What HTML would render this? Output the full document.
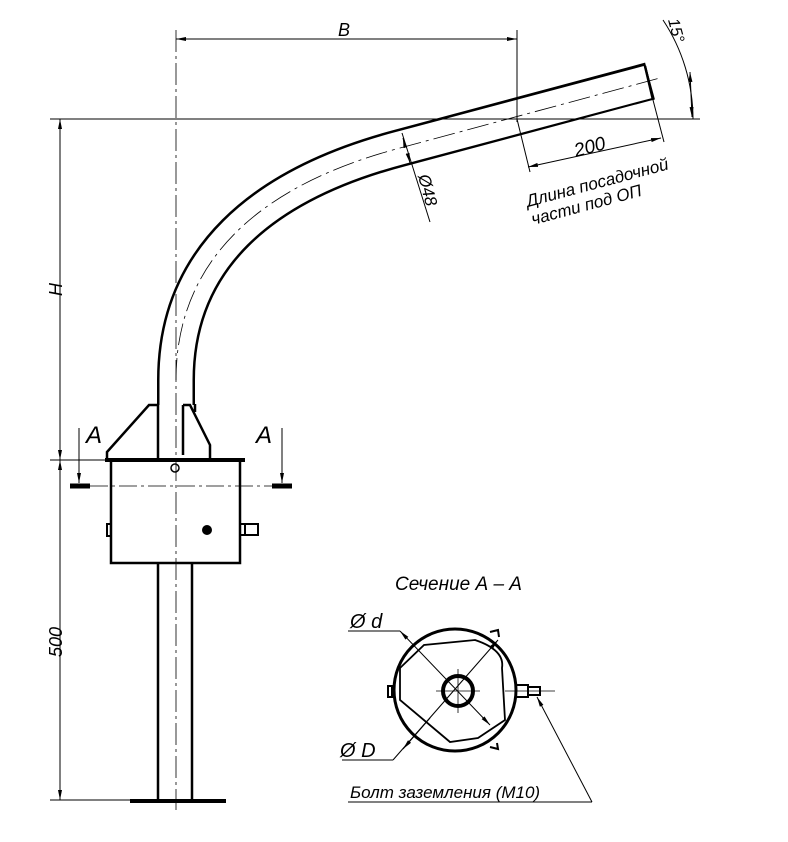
<!DOCTYPE html>
<html><head><meta charset="utf-8"><style>body{margin:0;background:#fff}svg{display:block}text{font-family:"Liberation Sans","DejaVu Sans",sans-serif;font-style:italic;fill:#000}</style></head><body>
<svg width="788" height="842" viewBox="0 0 788 842" xmlns="http://www.w3.org/2000/svg">
<defs><marker id="a" viewBox="0 0 10 4" refX="10" refY="2" markerWidth="10" markerHeight="4" orient="auto-start-reverse" markerUnits="userSpaceOnUse"><path d="M0,0L10,2L0,4z"/></marker></defs>
<g fill="none" stroke="#000">
<path d="M176,405 L176,380 C176,260 260,185 400,148 L650,81" stroke-width="38"/>
<path d="M176,407 L176,380 C176,260 260,185 400,148 L648,82" stroke="#fff" stroke-width="33"/>
<line x1="645" y1="66" x2="653" y2="100" stroke-width="2.5"/>
<path d="M176,380 C176,260 260,185 400,148 L660,78" stroke-width="0.8" stroke-dasharray="22,5,3,5"/>
<path d="M158,405 L149,405 L107,452 L107,459 M158,405 L158,459" stroke-width="2.5"/>
<path d="M183,405 L190,405 L210,445 L210,459 M183,405 L183,455 M195,404 L195,412" stroke-width="2.5"/>
<line x1="105" y1="460" x2="245" y2="460" stroke-width="4"/>
<path d="M111,460 L111,563 L240,563 L240,460" stroke-width="2.5"/>
<circle cx="175" cy="468" r="4" stroke-width="1.5"/>
<circle cx="207" cy="530" r="4" fill="#000" stroke-width="2"/>
<path d="M240,524 L258,524 L258,535 L240,535 M245,524 L245,535" stroke-width="2"/>
<path d="M111,524 L107,524 L107,536 L111,536" stroke-width="2"/>
<line x1="90" y1="486" x2="272" y2="486" stroke-width="0.8" stroke-dasharray="18,4,3,4"/>
<line x1="70" y1="486" x2="90" y2="486" stroke-width="5"/>
<line x1="272" y1="486" x2="292" y2="486" stroke-width="5"/>
<line x1="79" y1="428" x2="79" y2="483" stroke-width="1" marker-end="url(#a)"/>
<line x1="282" y1="428" x2="282" y2="483" stroke-width="1" marker-end="url(#a)"/>
<path d="M158,563 L158,800 M192,563 L192,800" stroke-width="2.5"/>
<line x1="130" y1="801" x2="226" y2="801" stroke-width="4"/>
<line x1="176" y1="30" x2="176" y2="810" stroke-width="0.8" stroke-dasharray="22,4,3,4"/>
<line x1="50" y1="119" x2="700" y2="119" stroke-width="1"/>
<line x1="50" y1="460" x2="105" y2="460" stroke-width="1"/>
<line x1="50" y1="800" x2="130" y2="800" stroke-width="1"/>
<line x1="60" y1="119" x2="60" y2="460" stroke-width="1" marker-start="url(#a)" marker-end="url(#a)"/>
<line x1="60" y1="460" x2="60" y2="800" stroke-width="1" marker-start="url(#a)" marker-end="url(#a)"/>
<line x1="517" y1="30" x2="517" y2="122" stroke-width="1"/>
<line x1="176" y1="39" x2="517" y2="39" stroke-width="1" marker-start="url(#a)" marker-end="url(#a)"/>
<path d="M663,20 A180,180 0 0 1 693,119" stroke-width="1"/>
<line x1="690" y1="72" x2="692" y2="117" stroke-width="1" marker-start="url(#a)" marker-end="url(#a)"/>
<line x1="517" y1="119" x2="530" y2="172" stroke-width="1"/>
<line x1="653" y1="100" x2="664" y2="142" stroke-width="1"/>
<line x1="528" y1="167" x2="661" y2="138" stroke-width="1" marker-start="url(#a)" marker-end="url(#a)"/>
<line x1="402" y1="133" x2="430" y2="222" stroke-width="1"/>
<line x1="403" y1="138" x2="405" y2="146" stroke-width="1" marker-start="url(#a)"/>
<line x1="408" y1="155" x2="410" y2="163" stroke-width="1" marker-end="url(#a)"/>
<circle cx="455" cy="690" r="61" stroke-width="3"/>
<path d="M400,668 L424,645 L475,640 Q505,650 502,668 L505,720 L478,738 L450,742 L400,700 Z" stroke-width="1.8"/>
<circle cx="458" cy="691" r="15" stroke-width="4"/>
<line x1="436" y1="691" x2="480" y2="691" stroke-width="0.8"/>
<line x1="458" y1="669" x2="458" y2="713" stroke-width="0.8"/>
<line x1="505" y1="691" x2="555" y2="691" stroke-width="0.8"/>
<path d="M388,686 L392,686 L392,697 L388,697Z M490,632 L498,630 L499,637 M490,747 L498,749 L497,743" stroke-width="2"/>
<path d="M516,685 L528,685 L528,697 L516,697 Z M528,687 L540,687 L540,695 L528,695" stroke-width="2"/>
<line x1="348" y1="631" x2="400" y2="631" stroke-width="1"/>
<line x1="400" y1="631" x2="490" y2="725" stroke-width="1" marker-start="url(#a)" marker-end="url(#a)"/>
<line x1="342" y1="760" x2="393" y2="760" stroke-width="1"/>
<line x1="393" y1="760" x2="498" y2="640" stroke-width="1" marker-end="url(#a)"/>
<line x1="430" y1="718" x2="403" y2="749" stroke-width="1" marker-end="url(#a)"/>
<line x1="348" y1="802" x2="592" y2="802" stroke-width="1"/>
<line x1="592" y1="802" x2="537" y2="697" stroke-width="1" marker-end="url(#a)"/>
</g>
<text x="86" y="443" font-size="24">A</text>
<text x="256" y="443" font-size="24">A</text>
<text x="338" y="36" font-size="18">B</text>
<text transform="translate(62,296) rotate(-90)" font-size="18">H</text>
<text transform="translate(62,657) rotate(-90)" font-size="18">500</text>
<text transform="translate(668,20) rotate(75)" font-size="16">15°</text>
<text transform="translate(576,157) rotate(-15)" font-size="19">200</text>
<text transform="translate(528,207) rotate(-15)" font-size="17">Длина посадочной</text>
<text transform="translate(533,225) rotate(-15)" font-size="17">части под ОП</text>
<text transform="translate(418,176) rotate(75)" font-size="17">Ø48</text>
<text x="395" y="590" font-size="19">Сечение  А – А</text>
<text x="350" y="628" font-size="20">Ø d</text>
<text x="340" y="757" font-size="20">Ø D</text>
<text x="350" y="798" font-size="17">Болт заземления (М10)</text>
</svg>
</body></html>
